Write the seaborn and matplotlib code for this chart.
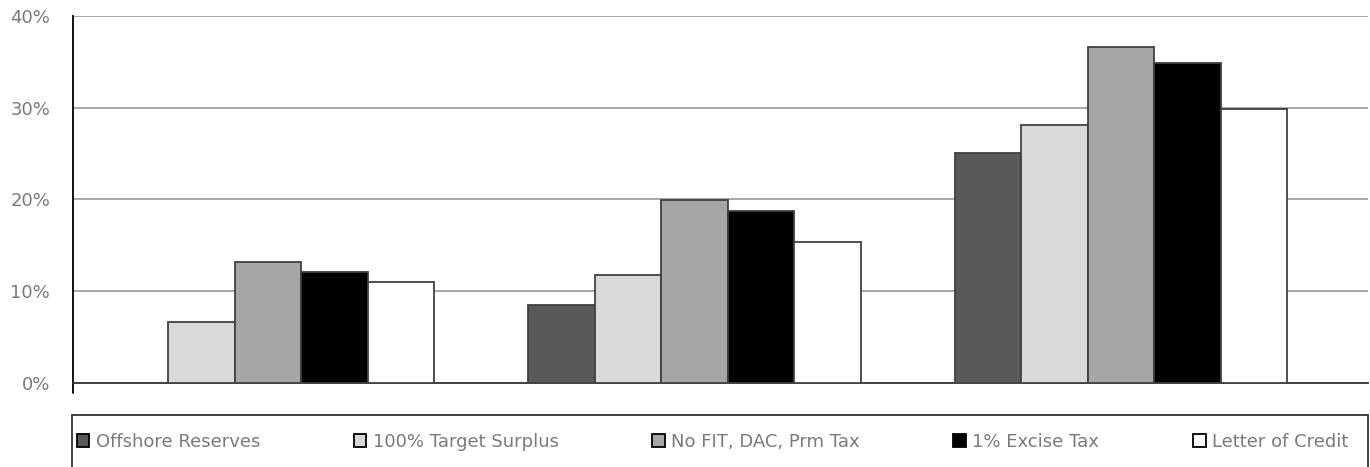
#!/usr/bin/env python3
"""
Grouped bar chart - five capital options across three scenarios
"""
import numpy as np
import pandas as pd
import seaborn as sns
import matplotlib.pyplot as plt
from matplotlib.patches import Patch, Rectangle
from matplotlib.ticker import PercentFormatter

categories = ["Scenario 1", "Scenario 2", "Scenario 3"]
series = [
    "Offshore Reserves",
    "100% Target Surplus",
    "No FIT, DAC, Prm Tax",
    "1% Excise Tax",
    "Letter of Credit",
]
offshore_reserves = [np.nan, 8.5, 25.1]
target_surplus = [6.7, 11.8, 28.1]
no_fit_dac = [13.2, 19.9, 36.6]
excise_tax = [12.1, 18.8, 34.9]
letter_of_credit = [11.0, 15.4, 29.9]
colors = ["#595959", "#d9d9d9", "#a6a6a6", "#000000", "#ffffff"]

values = [offshore_reserves, target_surplus, no_fit_dac, excise_tax, letter_of_credit]
df = pd.DataFrame(
    [(c, s, v) for s, vals in zip(series, values) for c, v in zip(categories, vals)],
    columns=["category", "series", "value"],
)

sns.set_style("white")
plt.rcParams["font.family"] = ["DejaVu Sans"]
text_color = "#7a7a7a"

W, H = 1370, 467
fig = plt.figure(figsize=(W / 100, H / 100), dpi=100)
ax = fig.add_axes([73 / W, 1 - 383 / H, 1295 / W, 367 / H])

sns.barplot(
    data=df.dropna(),
    x="category",
    y="value",
    hue="series",
    order=categories,
    hue_order=series,
    palette=colors,
    width=0.78,
    edgecolor="#404040",
    linewidth=1.3,
    legend=False,
    ax=ax,
    zorder=3,
)

ax.set_xlim(-0.457, 2.579)
ax.set_ylim(0, 40)
ax.set_yticks([0, 10, 20, 30, 40])
ax.yaxis.set_major_formatter(PercentFormatter(decimals=0))
ax.yaxis.grid(True, color="#a0a0a0", linewidth=1.3, zorder=0)
ax.set_axisbelow(True)
ax.set_xticks([])
ax.set_xlabel("")
ax.set_ylabel("")
ax.tick_params(axis="y", length=9.5, width=1.3, color="#a0a0a0",
               labelcolor=text_color, labelsize=13, pad=7)
ax.yaxis.get_major_ticks()[0].tick1line.set_color("#333333")
for side in ["top", "right"]:
    ax.spines[side].set_visible(False)
ax.spines["left"].set_color("#000000")
ax.spines["left"].set_linewidth(1.3)
ax.spines["bottom"].set_color("#333333")
ax.spines["bottom"].set_linewidth(1.3)
# left axis runs a little below zero
ax.plot([0, 0], [0, -0.027], transform=ax.transAxes, color="#000000",
        linewidth=1.3, clip_on=False)

# legend box across the bottom
fig.add_artist(Rectangle((72 / W, -5 / H), 1296 / W, 57 / H,
                         transform=fig.transFigure, facecolor="none",
                         edgecolor="#333333", linewidth=1.3))

handles = [Patch(facecolor=c, edgecolor="#000000", linewidth=1.3) for c in colors]
leg = fig.legend(
    handles,
    series,
    loc="center left",
    bbox_to_anchor=(75 / W, 23 / H, 1275 / W, 4 / H),
    mode="expand",
    ncol=5,
    fontsize=13,
    frameon=False,
    handlelength=0.7,
    handleheight=0.7,
    handletextpad=0.35,
    borderpad=0.1,
    borderaxespad=0,
    labelcolor=text_color,
)

fig.savefig("out.png", dpi=100)
